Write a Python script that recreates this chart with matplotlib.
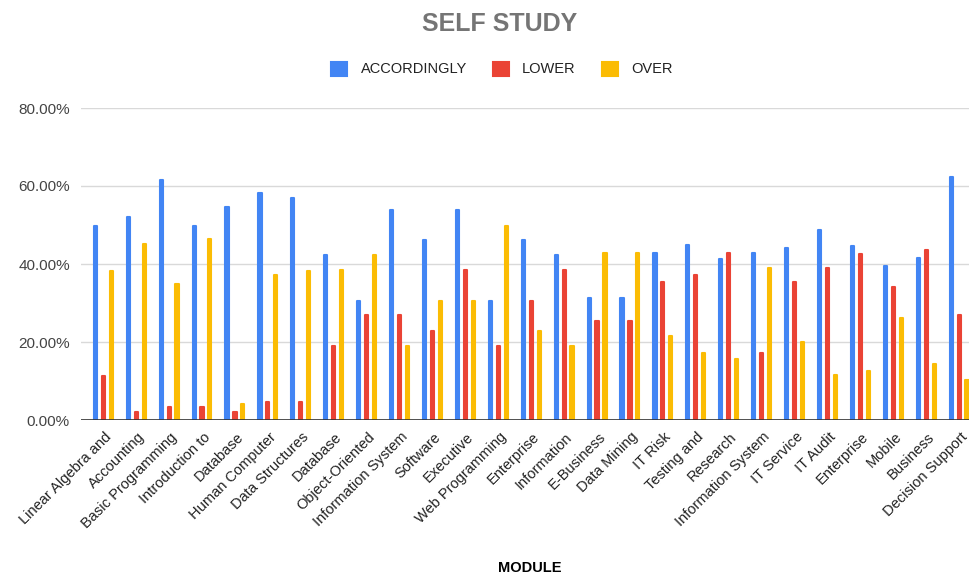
import numpy as np
import matplotlib
matplotlib.use("Agg")
from matplotlib import pyplot as plt
import matplotlib.ticker as ticker
import matplotlib.transforms as mtransforms

plt.rcParams['font.family'] = ['Liberation Sans', 'DejaVu Sans']

# share of students per module (percent)
modules = ['Linear Algebra and', 'Accounting', 'Basic Programming', 'Introduction to',
           'Database', 'Human Computer', 'Data Structures', 'Database',
           'Object-Oriented', 'Information System', 'Software', 'Executive',
           'Web Programming', 'Enterprise', 'Information', 'E-Business',
           'Data Mining', 'IT Risk', 'Testing and', 'Research',
           'Information System', 'IT Service', 'IT Audit', 'Enterprise',
           'Mobile', 'Business', 'Decision Support']
accordingly = [49.8, 52.1, 61.5, 49.8, 54.5, 58.1, 56.8, 42.2, 30.6, 53.9, 46.1, 53.9,
               30.6, 46.1, 42.2, 31.3, 31.3, 42.8, 44.9, 41.2, 42.8, 44.2, 48.8, 44.5,
               39.6, 41.5, 62.4]
lower = [11.4, 2.0, 3.3, 3.3, 2.0, 4.6, 4.6, 18.9, 26.9, 26.9, 22.9, 38.5,
         18.9, 30.6, 38.5, 25.3, 25.3, 35.3, 37.2, 42.8, 17.3, 35.5, 39.1, 42.6,
         34.2, 43.5, 26.9]
over = [38.2, 45.2, 34.9, 46.5, 4.0, 37.2, 38.2, 38.5, 42.2, 18.9, 30.6, 30.6,
        49.8, 22.9, 18.9, 42.8, 42.8, 21.6, 17.3, 15.6, 39.1, 19.9, 11.6, 12.6,
        26.2, 14.3, 10.3]

series = [('ACCORDINGLY', accordingly, '#4285F4'),
          ('LOWER', lower, '#EA4335'),
          ('OVER', over, '#FBBC04')]

fig = plt.figure(figsize=(9.69, 5.78), dpi=100)
ax = fig.add_axes([81 / 969, 158 / 578, 888 / 969, 312 / 578])

x = np.arange(len(modules))
w = 0.095
step = 0.24
for i, (name, vals, col) in enumerate(series):
    # rounded stroke in the bar colour gives the soft corners
    ax.bar(x + (i - 1) * step, vals, width=w, color=col, edgecolor=col,
           linewidth=1.5, joinstyle='round', label=name, zorder=3)

ax.set_xlim(-0.677, 26.30)
ax.set_ylim(0, 80)
ax.yaxis.set_major_locator(ticker.MultipleLocator(20))
ax.yaxis.set_major_formatter(ticker.PercentFormatter(xmax=100, decimals=2))
ax.grid(axis='y', color='#d9d9d9', linewidth=1, zorder=0)
ax.axhline(0, color='#333333', linewidth=1.2, zorder=4)
for s in ax.spines.values():
    s.set_visible(False)
ax.tick_params(axis='both', length=0, labelsize=11, labelcolor='#444444')
ax.tick_params(axis='y', pad=8)

ax.set_xticks(x)
ax.set_xticklabels(modules, rotation=45, ha='right', va='center',
                   rotation_mode='anchor', color='#222222', fontsize=10.5)
shift = mtransforms.ScaledTranslation(6 / 100, -10 / 100, fig.dpi_scale_trans)
for lbl in ax.get_xticklabels():
    lbl.set_transform(lbl.get_transform() + shift)

fig.text(500 / 969, 1 - 24 / 578, 'SELF STUDY', ha='center', va='center',
         fontsize=18, fontweight='bold', color='#757575')
fig.text(530 / 969, 1 - 568 / 578, 'MODULE', ha='center', va='center',
         fontsize=10.5, fontweight='bold', color='#000000')

fig.legend(loc='center', bbox_to_anchor=(502 / 969, 1 - 69 / 578), ncol=3,
           frameon=False, handlelength=1.1, handleheight=1.1, columnspacing=1.8,
           handletextpad=0.9, prop={'size': 10.5}, labelcolor='#222222')

fig.savefig('out.png', dpi=100)
